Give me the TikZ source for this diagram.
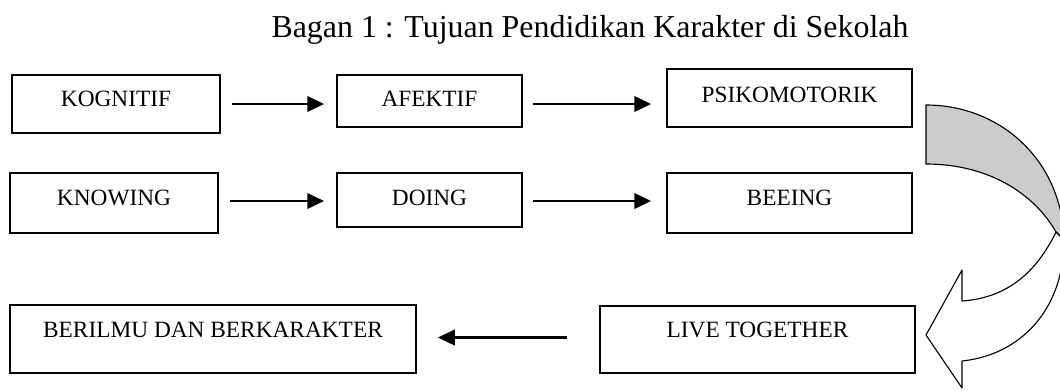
\documentclass[tikz,border=0pt]{standalone}
\usepackage{fontspec}
\setmainfont{Liberation Serif}
\usetikzlibrary{arrows.meta}

\begin{document}
\begin{tikzpicture}[
		kotak/.style={draw, line width=1.25pt, inner sep=0pt, text height=11pt, text depth=7.1pt, font=\fontsize{16.6}{20}\selectfont},
		panah/.style={-{Triangle[length=12pt, width=11pt]}, line width=1.7pt}
	]
		\useasboundingbox (0,0) rectangle (26.5,-9.75);
		
		% Judul
		\node[anchor=base, font=\fontsize{22.7}{27}\selectfont] (judul) at (14.75,-0.925) {Bagan 1 : Tujuan Pendidikan Karakter di Sekolah};
		
		% Baris pertama
		\node[kotak, minimum width=5.2cm, minimum height=1.45cm] (kog) at (2.9,-2.6) {KOGNITIF};
		\node[kotak, minimum width=4.625cm, minimum height=1.3cm, text depth=2.8pt] (afe) at (10.7375,-2.525) {AFEKTIF};
		\node[kotak, minimum width=6.125cm, minimum height=1.45cm, text depth=4.3pt] (psi) at (19.7375,-2.45) {PSIKOMOTORIK};
		
		% Baris kedua
		\node[kotak, minimum width=5.2cm, minimum height=1.5cm] (kno) at (2.85,-5.075) {KNOWING};
		\node[kotak, minimum width=4.625cm, minimum height=1.35cm, text depth=2.8pt] (doi) at (10.7375,-5.0) {DOING};
		\node[kotak, minimum width=6.125cm, minimum height=1.5cm] (bee) at (19.7375,-5.075) {BEEING};
		
		% Baris ketiga
		\node[kotak, minimum width=10.15cm, minimum height=1.7cm, text depth=12.8pt] (ber) at (5.325,-8.475) {BERILMU DAN BERKARAKTER};
		\node[kotak, minimum width=7.875cm, minimum height=1.675cm, text depth=13.5pt] (liv) at (18.9375,-8.4875) {LIVE TOGETHER};
		
		% Panah lurus
		\draw[panah, shorten <=0.275cm, shorten >=0.3cm] (kog.east) -- (kog.east -| afe.west);
		\draw[panah, shorten <=0.25cm, shorten >=0.375cm] ([yshift=-0.075cm]afe.east) -- ([yshift=-0.075cm]afe.east -| psi.west);
		\draw[panah, shorten <=0.275cm, shorten >=0.3cm] ([yshift=0.05cm]kno.east) -- ([yshift=0.05cm]kno.east -| doi.west);
		\draw[panah, shorten <=0.25cm, shorten >=0.375cm] ([yshift=-0.025cm]doi.east) -- ([yshift=-0.025cm]doi.east -| bee.west);
		\draw[panah, shorten <=0.8cm, shorten >=0.525cm] ([yshift=0.05cm]liv.west) -- ([yshift=0.05cm]liv.west -| ber.east);
		
		% Panah melengkung
		\begin{scope}
			\clip (0,0) rectangle (26.5,-9.75);
			\filldraw[fill=black!20, line width=0.8pt, line join=round] (23.15,-2.625) .. controls (25.0,-2.625) and (26.55,-4.0) .. (26.6,-6.0)
				-- (26.4,-5.8) .. controls (25.875,-4.875) and (24.75,-4.1) .. (23.15,-4.1) -- cycle;
			\filldraw[fill=white, line width=0.8pt, line join=round] (26.4,-5.8) .. controls (25.875,-6.875) and (25.125,-7.45) .. (24.05,-7.525)
				-- (24.05,-6.75) -- (23.15,-8.375) -- (24.05,-9.7) -- (24.05,-9.025)
				.. controls (25.5,-8.875) and (26.6,-7.75) .. (26.6,-6.0) -- cycle;
		\end{scope}
	\end{tikzpicture}
\end{document}
